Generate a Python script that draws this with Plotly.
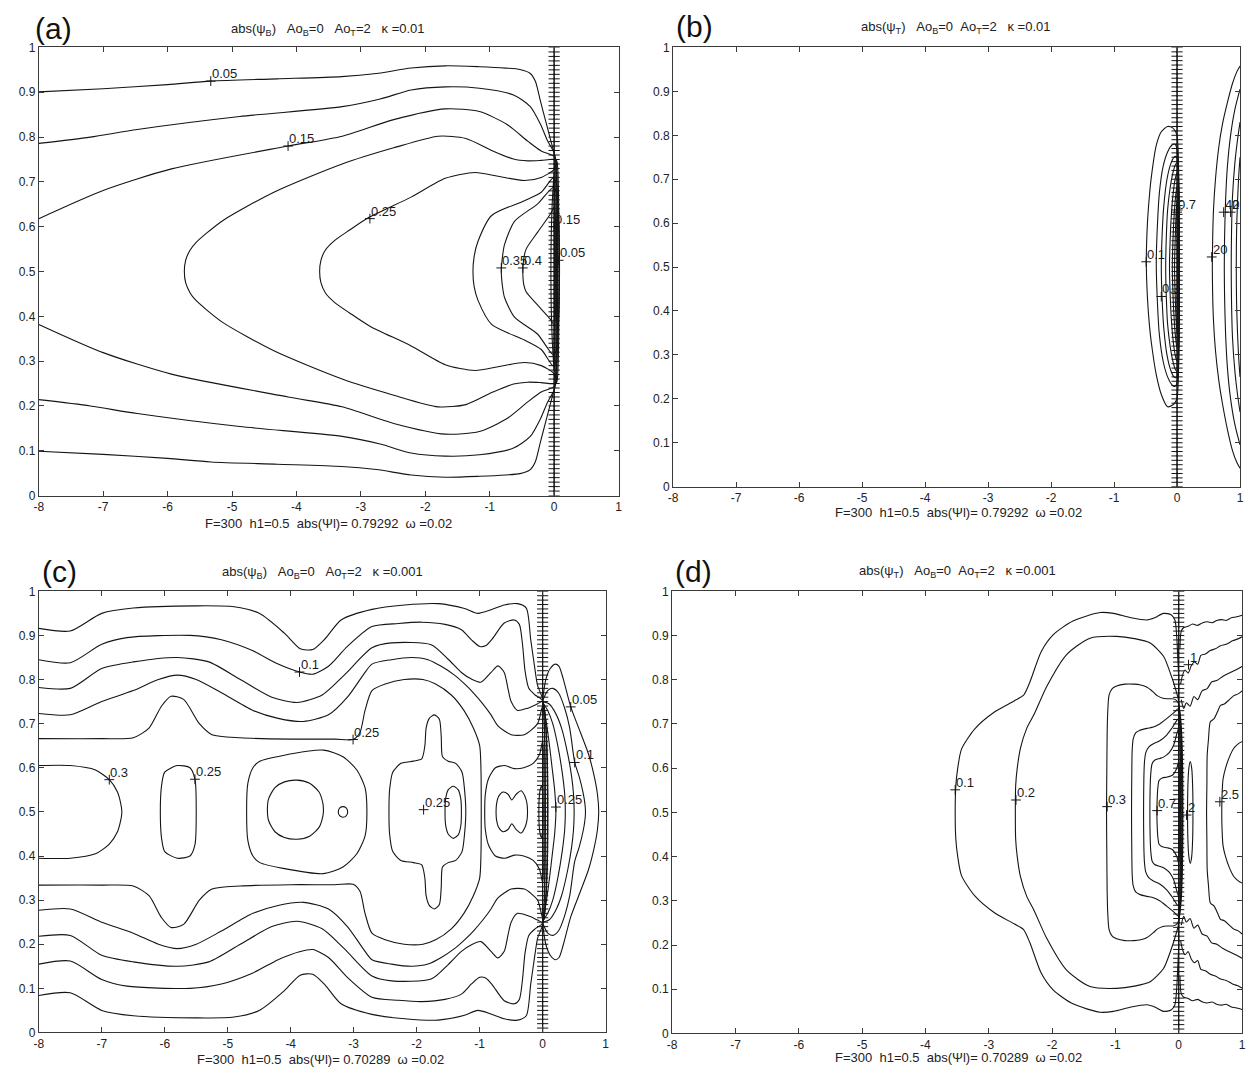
import plotly.graph_objects as go

W, H = 1249, 1076
LINE = '#151515'
FRAME = '#3a3a3a'
FONT = 'Liberation Sans, Arial, Helvetica, sans-serif'

# ---------------- axis ticks ----------------
X_TICKS = [-8, -7, -6, -5, -4, -3, -2, -1, 0, 1]
X_TICK_TEXT = ['-8', '-7', '-6', '-5', '-4', '-3', '-2', '-1', '0', '1']
Y_TICKS = [0, 0.1, 0.2, 0.3, 0.4, 0.5, 0.6, 0.7, 0.8, 0.9, 1]
Y_TICK_TEXT = ['0', '0.1', '0.2', '0.3', '0.4', '0.5', '0.6', '0.7', '0.8', '0.9', '1']

# interface grid nodes (the '+' column at x = 0)
INTERFACE_Y = [0.00, 0.01, 0.02, 0.03, 0.04, 0.05, 0.06, 0.07, 0.08, 0.09,
               0.10, 0.11, 0.12, 0.13, 0.14, 0.15, 0.16, 0.17, 0.18, 0.19,
               0.20, 0.21, 0.22, 0.23, 0.24, 0.25, 0.26, 0.27, 0.28, 0.29,
               0.30, 0.31, 0.32, 0.33, 0.34, 0.35, 0.36, 0.37, 0.38, 0.39,
               0.40, 0.41, 0.42, 0.43, 0.44, 0.45, 0.46, 0.47, 0.48, 0.49,
               0.50, 0.51, 0.52, 0.53, 0.54, 0.55, 0.56, 0.57, 0.58, 0.59,
               0.60, 0.61, 0.62, 0.63, 0.64, 0.65, 0.66, 0.67, 0.68, 0.69,
               0.70, 0.71, 0.72, 0.73, 0.74, 0.75, 0.76, 0.77, 0.78, 0.79,
               0.80, 0.81, 0.82, 0.83, 0.84, 0.85, 0.86, 0.87, 0.88, 0.89,
               0.90, 0.91, 0.92, 0.93, 0.94, 0.95, 0.96, 0.97, 0.98, 0.99, 1.00]

# ================= panel (a): abs(psi_B), kappa = 0.01 =================
A_L1_X = [-8, -7, -6, -5.33, -4.3, -3.3, -2.76, -2.22, -1.69, -1.16, -0.75, -0.53, -0.37, -0.29, -0.21, -0.13, -0.05, 0.0, 0.02, 0.045]
A_L1_YT = [0.901, 0.908, 0.917, 0.925, 0.930, 0.935, 0.942, 0.954, 0.959, 0.957, 0.954, 0.951, 0.942, 0.924, 0.879, 0.835, 0.791, 0.765, 0.752, 0.745]
A_L1_YB = [0.099, 0.092, 0.083, 0.075, 0.070, 0.065, 0.058, 0.046, 0.041, 0.043, 0.046, 0.049, 0.058, 0.076, 0.121, 0.165, 0.209, 0.235, 0.248, 0.255]

A_L2_X = [-8, -7.2, -6.47, -4.88, -3.29, -2.7, -2.22, -1.69, -1.16, -0.63, -0.37, -0.21, -0.10, 0.0, 0.02, 0.035]
A_L2_YT = [0.786, 0.80, 0.817, 0.846, 0.868, 0.885, 0.905, 0.912, 0.909, 0.894, 0.868, 0.828, 0.791, 0.765, 0.752, 0.745]
A_L2_YB = [0.214, 0.20, 0.183, 0.154, 0.132, 0.115, 0.095, 0.088, 0.091, 0.106, 0.132, 0.172, 0.209, 0.235, 0.248, 0.255]

A_L3_X = [-8, -7.0, -5.94, -4.13, -3.29, -2.49, -1.69, -1.16, -0.73, -0.41, -0.20, 0.0, 0.025]
A_L3_YT = [0.618, 0.681, 0.729, 0.780, 0.802, 0.839, 0.863, 0.857, 0.828, 0.791, 0.769, 0.757, 0.745]
A_L3_YB = [0.382, 0.319, 0.271, 0.220, 0.198, 0.161, 0.137, 0.143, 0.172, 0.209, 0.231, 0.243, 0.255]

A_L4_X = [-5.74, -5.72, -5.65, -5.57, -5.40, -5.14, -4.35, -3.29, -2.49, -1.80, -1.37, -0.95, -0.63, -0.41, -0.20, 0.0, 0.015]
A_L4_YT = [0.500, 0.525, 0.548, 0.563, 0.585, 0.614, 0.677, 0.740, 0.776, 0.802, 0.797, 0.769, 0.751, 0.747, 0.748, 0.750, 0.745]
A_L4_YB = [0.500, 0.475, 0.452, 0.437, 0.415, 0.386, 0.323, 0.260, 0.224, 0.198, 0.203, 0.231, 0.249, 0.253, 0.252, 0.250, 0.255]

A_L5_X = [-3.64, -3.62, -3.55, -3.40, -3.18, -2.86, -2.22, -1.69, -1.23, -0.85, -0.46, -0.20, 0.0, 0.01]
A_L5_YT = [0.500, 0.525, 0.548, 0.570, 0.592, 0.622, 0.666, 0.708, 0.721, 0.712, 0.703, 0.710, 0.728, 0.740]
A_L5_YB = [0.500, 0.475, 0.452, 0.430, 0.408, 0.378, 0.334, 0.292, 0.279, 0.288, 0.297, 0.290, 0.272, 0.260]

A_L6_X = [-1.26, -1.24, -1.18, -0.97, -0.46, -0.20, 0.0]
A_L6_YT = [0.500, 0.535, 0.568, 0.625, 0.658, 0.677, 0.710]
A_L6_YB = [0.500, 0.465, 0.435, 0.382, 0.347, 0.326, 0.288]

A_L7_X = [-0.82, -0.80, -0.77, -0.615, -0.255, 0.0]
A_L7_YT = [0.500, 0.535, 0.560, 0.612, 0.651, 0.688]
A_L7_YB = [0.500, 0.465, 0.442, 0.398, 0.360, 0.313]

A_L8_X = [-0.486, -0.47, -0.435, -0.255, -0.05, 0.0]
A_L8_YT = [0.500, 0.530, 0.550, 0.588, 0.630, 0.644]
A_L8_YB = [0.500, 0.470, 0.455, 0.425, 0.392, 0.380]

A_L9_X = [-0.05, -0.045, -0.03, -0.01, 0.0]
A_L9_YT = [0.50, 0.58, 0.65, 0.70, 0.72]
A_L9_YB = [0.50, 0.42, 0.35, 0.30, 0.28]

A_LABEL_X = [-5.33, -4.13, -2.86, -0.82, -0.486, 0.0, 0.07]
A_LABEL_Y = [0.925, 0.780, 0.618, 0.508, 0.508, 0.600, 0.525]
A_LABEL_TEXT = ['0.05', '0.15', '0.25', '0.35', '0.4', '0.15', '0.05']

# ================= panel (b): abs(psi_T), kappa = 0.01 =================
B_E1_X = [-0.488, -0.47, -0.44, -0.41, -0.33, -0.25, -0.15, -0.07, -0.03, 0.0]
B_E1_YT = [0.512, 0.600, 0.660, 0.703, 0.777, 0.808, 0.820, 0.817, 0.810, 0.800]
B_E1_YB = [0.512, 0.430, 0.370, 0.330, 0.255, 0.210, 0.182, 0.186, 0.192, 0.201]

B_E2_X = [-0.33, -0.31, -0.28, -0.22, -0.15, -0.08, -0.035, 0.0]
B_E2_YT = [0.508, 0.600, 0.670, 0.730, 0.762, 0.778, 0.780, 0.768]
B_E2_YB = [0.508, 0.415, 0.345, 0.285, 0.250, 0.232, 0.228, 0.236]

B_E3_X = [-0.25, -0.235, -0.21, -0.16, -0.10, -0.05, -0.02, 0.0]
B_E3_YT = [0.500, 0.580, 0.640, 0.700, 0.735, 0.750, 0.752, 0.748]
B_E3_YB = [0.500, 0.420, 0.360, 0.300, 0.265, 0.250, 0.248, 0.252]

B_E4_X = [-0.18, -0.17, -0.15, -0.11, -0.07, -0.03, 0.0]
B_E4_YT = [0.500, 0.570, 0.630, 0.680, 0.712, 0.732, 0.738]
B_E4_YB = [0.500, 0.430, 0.370, 0.320, 0.288, 0.268, 0.262]

B_E5_X = [-0.12, -0.11, -0.09, -0.06, -0.03, 0.0]
B_E5_YT = [0.500, 0.560, 0.620, 0.670, 0.700, 0.715]
B_E5_YB = [0.500, 0.440, 0.380, 0.330, 0.300, 0.285]

B_E6_X = [-0.075, -0.065, -0.045, -0.02, 0.0]
B_E6_YT = [0.500, 0.560, 0.620, 0.665, 0.685]
B_E6_YB = [0.500, 0.440, 0.380, 0.335, 0.315]

B_E7_X = [-0.04, -0.03, -0.015, 0.0]
B_E7_YT = [0.500, 0.560, 0.620, 0.650]
B_E7_YB = [0.500, 0.440, 0.380, 0.350]

B_R1_X = [0.56, 0.565, 0.578, 0.61, 0.66, 0.72, 0.80, 0.88, 0.95, 1.0]
B_R1_YT = [0.500, 0.560, 0.628, 0.700, 0.770, 0.825, 0.875, 0.918, 0.945, 0.958]
B_R1_YB = [0.500, 0.440, 0.380, 0.310, 0.245, 0.190, 0.130, 0.082, 0.055, 0.042]

B_R2_X = [0.75, 0.755, 0.77, 0.80, 0.85, 0.92, 1.0]
B_R2_YT = [0.500, 0.570, 0.650, 0.730, 0.800, 0.860, 0.905]
B_R2_YB = [0.500, 0.430, 0.350, 0.270, 0.200, 0.140, 0.095]

B_R3_X = [0.86, 0.865, 0.88, 0.92, 0.96, 1.0]
B_R3_YT = [0.500, 0.580, 0.660, 0.740, 0.790, 0.830]
B_R3_YB = [0.500, 0.420, 0.340, 0.260, 0.210, 0.170]

B_R4_X = [0.94, 0.945, 0.96, 0.98, 1.0]
B_R4_YT = [0.500, 0.580, 0.650, 0.710, 0.750]
B_R4_YB = [0.500, 0.420, 0.350, 0.290, 0.250]

B_LABEL_X = [-0.49, -0.25, 0.0, 0.55, 0.74, 0.85]
B_LABEL_Y = [0.512, 0.433, 0.625, 0.523, 0.625, 0.625]
B_LABEL_TEXT = ['0.1', '0.3', '0.7', '20', '40', '2']

# ================= panel (c): abs(psi_B), kappa = 0.001 =================
C_L1_X = [-8, -7.5, -7.0, -6.5, -5.5, -4.9, -4.5, -4.1, -3.85, -3.65, -3.45, -3.2, -2.71, -2.19, -1.66, -1.24, -1.03, -0.82, -0.61, -0.40, -0.26, -0.19, -0.13, -0.08, 0.0]
C_L1_YT = [0.916, 0.910, 0.950, 0.962, 0.967, 0.965, 0.950, 0.905, 0.870, 0.868, 0.893, 0.935, 0.959, 0.969, 0.972, 0.961, 0.950, 0.958, 0.969, 0.972, 0.962, 0.891, 0.831, 0.786, 0.755]
C_L1_YB = [0.084, 0.090, 0.050, 0.038, 0.033, 0.035, 0.050, 0.095, 0.130, 0.132, 0.107, 0.065, 0.041, 0.031, 0.028, 0.039, 0.050, 0.042, 0.031, 0.028, 0.038, 0.109, 0.169, 0.214, 0.245]

C_L2_X = [-8, -7.5, -7.0, -6.6, -5.6, -5.1, -4.6, -4.2, -3.86, -3.65, -3.4, -3.1, -2.71, -2.29, -1.92, -1.55, -1.29, -1.13, -1.0, -0.9, -0.8, -0.61, -0.45, -0.37, -0.32, -0.28, -0.22, -0.12, 0.0]
C_L2_YT = [0.845, 0.838, 0.880, 0.895, 0.900, 0.890, 0.865, 0.835, 0.817, 0.812, 0.830, 0.875, 0.920, 0.927, 0.930, 0.925, 0.913, 0.890, 0.875, 0.877, 0.892, 0.928, 0.935, 0.925, 0.880, 0.820, 0.780, 0.765, 0.752]
C_L2_YB = [0.155, 0.162, 0.120, 0.105, 0.100, 0.110, 0.135, 0.165, 0.183, 0.188, 0.170, 0.125, 0.080, 0.073, 0.070, 0.075, 0.087, 0.110, 0.125, 0.123, 0.108, 0.072, 0.065, 0.075, 0.120, 0.180, 0.220, 0.235, 0.248]

C_L3_X = [-8, -7.5, -7.0, -6.5, -5.8, -5.3, -4.8, -4.3, -3.9, -3.5, -3.15, -2.71, -2.40, -1.77, -1.50, -1.29, -1.13, -0.98, -0.82, -0.71, -0.61, -0.55, -0.50, -0.40, -0.24, -0.08, 0.0]
C_L3_YT = [0.782, 0.780, 0.825, 0.840, 0.850, 0.840, 0.800, 0.760, 0.748, 0.765, 0.810, 0.872, 0.883, 0.879, 0.846, 0.816, 0.801, 0.794, 0.816, 0.831, 0.816, 0.779, 0.750, 0.730, 0.735, 0.745, 0.750]
C_L3_YB = [0.218, 0.220, 0.175, 0.160, 0.150, 0.160, 0.200, 0.240, 0.252, 0.235, 0.190, 0.128, 0.117, 0.121, 0.154, 0.184, 0.199, 0.206, 0.184, 0.169, 0.184, 0.221, 0.250, 0.270, 0.265, 0.255, 0.250]

C_L4_X = [-8, -7.5, -7.0, -6.5, -6.1, -5.8, -5.5, -5.1, -4.6, -4.2, -3.8, -3.4, -3.1, -2.85, -2.71, -2.40, -2.08, -1.82, -1.61, -1.40, -1.24, -1.10, -0.95, -0.82, -0.71, -0.50, -0.29, -0.08, 0.0]
C_L4_YT = [0.723, 0.720, 0.750, 0.775, 0.800, 0.810, 0.800, 0.770, 0.730, 0.712, 0.705, 0.720, 0.760, 0.810, 0.835, 0.845, 0.850, 0.845, 0.830, 0.810, 0.790, 0.770, 0.745, 0.720, 0.695, 0.675, 0.675, 0.700, 0.740]
C_L4_YB = [0.277, 0.280, 0.250, 0.225, 0.200, 0.190, 0.200, 0.230, 0.270, 0.288, 0.295, 0.280, 0.240, 0.190, 0.165, 0.155, 0.150, 0.155, 0.170, 0.190, 0.210, 0.230, 0.255, 0.280, 0.305, 0.325, 0.325, 0.300, 0.260]

C_L5_X = [-8, -7.0, -6.5, -6.25, -6.05, -5.9, -5.7, -5.45, -5.25, -4.8, -4.0, -3.3, -3.01, -2.9, -2.82, -2.71, -2.5, -2.2, -1.9, -1.7, -1.45, -1.25, -1.10, -1.0, -0.98, -0.975]
C_L5_YT = [0.666, 0.666, 0.668, 0.690, 0.740, 0.762, 0.755, 0.700, 0.675, 0.668, 0.665, 0.665, 0.664, 0.680, 0.730, 0.775, 0.790, 0.800, 0.800, 0.790, 0.765, 0.730, 0.690, 0.650, 0.600, 0.500]
C_L5_YB = [0.334, 0.334, 0.332, 0.310, 0.260, 0.238, 0.245, 0.300, 0.325, 0.332, 0.335, 0.335, 0.336, 0.320, 0.270, 0.225, 0.210, 0.200, 0.200, 0.210, 0.235, 0.270, 0.310, 0.350, 0.400, 0.500]

C_S03_X = [-8, -7.5, -7.1, -6.88, -6.75, -6.70, -6.68]
C_S03_YT = [0.605, 0.605, 0.595, 0.573, 0.545, 0.520, 0.500]
C_S03_YB = [0.395, 0.395, 0.405, 0.427, 0.455, 0.480, 0.500]

C_OV1_X = [-6.07, -6.05, -6.0, -5.8, -5.6, -5.52, -5.50]
C_OV1_YT = [0.500, 0.560, 0.590, 0.605, 0.600, 0.574, 0.500]
C_OV1_YB = [0.500, 0.440, 0.410, 0.395, 0.400, 0.426, 0.500]

C_RR_X = [-4.70, -4.68, -4.60, -4.49, -4.12, -3.48, -3.17, -2.95, -2.82, -2.79]
C_RR_YT = [0.500, 0.565, 0.600, 0.615, 0.628, 0.640, 0.625, 0.595, 0.555, 0.500]
C_RR_YB = [0.500, 0.435, 0.400, 0.385, 0.372, 0.360, 0.375, 0.405, 0.445, 0.500]

C_CI_X = [-4.37, -4.35, -4.25, -4.10, -3.90, -3.70, -3.55, -3.49, -3.48]
C_CI_YT = [0.505, 0.530, 0.555, 0.568, 0.572, 0.565, 0.545, 0.520, 0.505]
C_CI_YB = [0.505, 0.480, 0.455, 0.442, 0.438, 0.445, 0.465, 0.490, 0.505]

C_TC_X = [-3.245, -3.22, -3.17, -3.12, -3.095]
C_TC_YT = [0.500, 0.509, 0.512, 0.509, 0.500]
C_TC_YB = [0.500, 0.491, 0.488, 0.491, 0.500]

C_CR_X = [-2.44, -2.43, -2.38, -2.25, -2.05, -1.92, -1.87, -1.85, -1.80, -1.72, -1.64, -1.61, -1.59, -1.50, -1.38, -1.28, -1.24, -1.22]
C_CR_YT = [0.500, 0.550, 0.590, 0.610, 0.615, 0.620, 0.650, 0.690, 0.712, 0.720, 0.710, 0.670, 0.625, 0.615, 0.610, 0.590, 0.550, 0.500]
C_CR_YB = [0.500, 0.450, 0.410, 0.390, 0.385, 0.380, 0.350, 0.310, 0.288, 0.280, 0.290, 0.330, 0.375, 0.385, 0.390, 0.410, 0.450, 0.500]

C_IO_X = [-1.55, -1.54, -1.50, -1.42, -1.34, -1.30, -1.29]
C_IO_YT = [0.500, 0.530, 0.550, 0.558, 0.550, 0.530, 0.500]
C_IO_YB = [0.500, 0.470, 0.450, 0.440, 0.448, 0.468, 0.500]

C_RG_X = [-0.92, -0.91, -0.86, -0.75, -0.60, -0.45, -0.30, -0.15, -0.05, 0.0]
C_RG_YT = [0.500, 0.540, 0.575, 0.600, 0.605, 0.598, 0.600, 0.610, 0.630, 0.660]
C_RG_YB = [0.500, 0.460, 0.425, 0.400, 0.395, 0.402, 0.400, 0.390, 0.370, 0.340]

C_PN_X = [-0.74, -0.73, -0.70, -0.63, -0.55, -0.49, -0.42, -0.34, -0.28, -0.25, -0.24]
C_PN_YT = [0.500, 0.520, 0.535, 0.545, 0.540, 0.527, 0.540, 0.548, 0.535, 0.520, 0.500]
C_PN_YB = [0.500, 0.480, 0.465, 0.455, 0.460, 0.473, 0.460, 0.452, 0.465, 0.480, 0.500]

C_SO_X = [-0.06, -0.055, -0.04, -0.02, -0.005, 0.0]
C_SO_YT = [0.500, 0.530, 0.550, 0.558, 0.550, 0.540]
C_SO_YB = [0.500, 0.470, 0.450, 0.442, 0.450, 0.460]

C_A1_X = [0.0, 0.05, 0.12, 0.2, 0.26, 0.33, 0.446, 0.6, 0.73, 0.82, 0.87, 0.89]
C_A1_YT = [0.755, 0.800, 0.825, 0.835, 0.830, 0.800, 0.738, 0.680, 0.630, 0.580, 0.540, 0.500]
C_A1_YB = [0.245, 0.200, 0.175, 0.165, 0.170, 0.200, 0.262, 0.320, 0.370, 0.420, 0.460, 0.500]

C_A2_X = [0.0, 0.08, 0.16, 0.25, 0.35, 0.43, 0.509, 0.58, 0.64, 0.67, 0.68]
C_A2_YT = [0.752, 0.775, 0.780, 0.770, 0.735, 0.690, 0.612, 0.580, 0.545, 0.520, 0.500]
C_A2_YB = [0.248, 0.225, 0.220, 0.230, 0.265, 0.310, 0.388, 0.420, 0.455, 0.480, 0.500]

C_A3_X = [0.0, 0.1, 0.2, 0.3, 0.4, 0.46, 0.49, 0.50]
C_A3_YT = [0.750, 0.745, 0.725, 0.690, 0.630, 0.580, 0.540, 0.500]
C_A3_YB = [0.250, 0.255, 0.275, 0.310, 0.370, 0.420, 0.460, 0.500]

C_A4_X = [0.0, 0.08, 0.16, 0.24, 0.31, 0.35, 0.36]
C_A4_YT = [0.748, 0.730, 0.700, 0.650, 0.590, 0.540, 0.500]
C_A4_YB = [0.252, 0.270, 0.300, 0.350, 0.410, 0.460, 0.500]

C_A5_X = [0.0, 0.05, 0.10, 0.15, 0.19, 0.21]
C_A5_YT = [0.745, 0.710, 0.660, 0.600, 0.550, 0.500]
C_A5_YB = [0.255, 0.290, 0.340, 0.400, 0.450, 0.500]

C_LABEL_X = [-6.88, -5.52, -3.86, -3.01, -1.89, 0.446, 0.509, 0.21]
C_LABEL_Y = [0.573, 0.574, 0.817, 0.664, 0.505, 0.738, 0.612, 0.511]
C_LABEL_TEXT = ['0.3', '0.25', '0.1', '0.25', '0.25', '0.05', '0.1', '0.25']

# ================= panel (d): abs(psi_T), kappa = 0.001 =================
D_C1_X = [-3.53, -3.52, -3.49, -3.43, -3.22, -2.91, -2.60, -2.45, -2.35, -2.17, -1.98, -1.67, -1.24, -1.03, -0.75, -0.50, -0.38, -0.24, -0.12, -0.06, -0.03, -0.015, 0.0]
D_C1_YT = [0.500, 0.560, 0.600, 0.643, 0.689, 0.727, 0.752, 0.765, 0.795, 0.864, 0.902, 0.933, 0.952, 0.950, 0.940, 0.935, 0.940, 0.950, 0.947, 0.935, 0.895, 0.850, 0.800]
D_C1_YB = [0.500, 0.440, 0.400, 0.357, 0.311, 0.273, 0.248, 0.235, 0.205, 0.136, 0.098, 0.067, 0.048, 0.050, 0.060, 0.065, 0.060, 0.050, 0.053, 0.065, 0.105, 0.150, 0.200]

D_C2_X = [-2.58, -2.575, -2.55, -2.50, -2.40, -2.29, -2.08, -1.77, -1.40, -0.98, -0.70, -0.45, -0.24, -0.12, -0.05, 0.0]
D_C2_YT = [0.500, 0.560, 0.600, 0.645, 0.690, 0.720, 0.786, 0.857, 0.894, 0.898, 0.893, 0.883, 0.853, 0.810, 0.779, 0.750]
D_C2_YB = [0.500, 0.440, 0.400, 0.355, 0.310, 0.280, 0.214, 0.143, 0.106, 0.102, 0.107, 0.117, 0.147, 0.190, 0.221, 0.250]

D_C3_X = [-1.14, -1.135, -1.13, -1.12, -1.10, -1.05, -0.98, -0.85, -0.71, -0.60, -0.50, -0.40, -0.34, -0.25, -0.19, -0.10, -0.05, 0.0]
D_C3_YT = [0.500, 0.600, 0.680, 0.730, 0.765, 0.780, 0.786, 0.790, 0.790, 0.788, 0.783, 0.772, 0.764, 0.758, 0.757, 0.757, 0.755, 0.745]
D_C3_YB = [0.500, 0.400, 0.320, 0.270, 0.235, 0.220, 0.214, 0.210, 0.210, 0.212, 0.217, 0.228, 0.236, 0.242, 0.243, 0.243, 0.245, 0.255]

D_C4_X = [-0.745, -0.74, -0.735, -0.72, -0.68, -0.61, -0.50, -0.40, -0.30, -0.19, -0.08, 0.0]
D_C4_YT = [0.500, 0.600, 0.640, 0.665, 0.680, 0.686, 0.690, 0.693, 0.700, 0.712, 0.725, 0.735]
D_C4_YB = [0.500, 0.400, 0.360, 0.335, 0.320, 0.314, 0.310, 0.307, 0.300, 0.288, 0.275, 0.265]

D_C5_X = [-0.555, -0.55, -0.54, -0.52, -0.47, -0.40, -0.30, -0.19, -0.10, 0.0]
D_C5_YT = [0.500, 0.580, 0.615, 0.635, 0.648, 0.655, 0.662, 0.675, 0.692, 0.712]
D_C5_YB = [0.500, 0.420, 0.385, 0.365, 0.352, 0.345, 0.338, 0.325, 0.308, 0.288]

D_C6_X = [-0.455, -0.45, -0.44, -0.42, -0.38, -0.30, -0.24, -0.15, -0.08, 0.0]
D_C6_YT = [0.500, 0.560, 0.590, 0.610, 0.618, 0.622, 0.625, 0.635, 0.652, 0.690]
D_C6_YB = [0.500, 0.440, 0.410, 0.390, 0.382, 0.378, 0.375, 0.365, 0.348, 0.310]

D_C7_X = [-0.345, -0.34, -0.33, -0.31, -0.26, -0.18, -0.10, -0.03, 0.0]
D_C7_YT = [0.500, 0.530, 0.555, 0.572, 0.578, 0.580, 0.584, 0.600, 0.615]
D_C7_YB = [0.500, 0.470, 0.445, 0.428, 0.422, 0.420, 0.416, 0.400, 0.385]

D_EL_X = [0.14, 0.145, 0.16, 0.183, 0.205, 0.22, 0.225]
D_EL_YT = [0.500, 0.560, 0.600, 0.615, 0.600, 0.560, 0.500]
D_EL_YB = [0.500, 0.440, 0.400, 0.385, 0.400, 0.440, 0.500]

D_R1_X = [0.02, 0.04, 0.08, 0.15, 0.22, 0.30, 0.38, 0.45, 0.53, 0.60, 0.68, 0.75, 0.83, 0.90, 1.0]
D_R1_YT = [0.870, 0.910, 0.918, 0.921, 0.926, 0.923, 0.929, 0.931, 0.929, 0.934, 0.936, 0.934, 0.940, 0.942, 0.946]
D_R1_YB = [0.130, 0.090, 0.082, 0.079, 0.074, 0.077, 0.071, 0.069, 0.071, 0.066, 0.064, 0.066, 0.060, 0.058, 0.054]

D_R2_X = [0.03, 0.06, 0.10, 0.15, 0.20, 0.25, 0.30, 0.35, 0.42, 0.50, 0.58, 0.66, 0.75, 0.85, 0.95, 1.0]
D_R2_YT = [0.790, 0.810, 0.822, 0.815, 0.832, 0.840, 0.835, 0.855, 0.858, 0.866, 0.870, 0.877, 0.880, 0.888, 0.893, 0.897]
D_R2_YB = [0.210, 0.190, 0.178, 0.185, 0.168, 0.160, 0.165, 0.145, 0.142, 0.134, 0.130, 0.123, 0.120, 0.112, 0.107, 0.103]

D_R3_X = [0.04, 0.08, 0.12, 0.18, 0.24, 0.30, 0.37, 0.45, 0.52, 0.60, 0.70, 0.80, 0.90, 1.0]
D_R3_YT = [0.755, 0.735, 0.748, 0.740, 0.762, 0.755, 0.775, 0.780, 0.795, 0.798, 0.808, 0.815, 0.822, 0.830]
D_R3_YB = [0.245, 0.265, 0.252, 0.260, 0.238, 0.245, 0.225, 0.220, 0.205, 0.202, 0.192, 0.185, 0.178, 0.170]

D_R4_X = [0.44, 0.445, 0.45, 0.47, 0.50, 0.56, 0.62, 0.66, 0.72, 0.80, 0.87, 0.94, 1.0]
D_R4_YT = [0.500, 0.560, 0.630, 0.665, 0.705, 0.712, 0.730, 0.742, 0.745, 0.755, 0.764, 0.768, 0.775]
D_R4_YB = [0.500, 0.440, 0.370, 0.335, 0.295, 0.288, 0.270, 0.258, 0.255, 0.245, 0.236, 0.232, 0.225]

D_R5_X = [0.68, 0.685, 0.70, 0.74, 0.80, 0.87, 0.94, 1.0]
D_R5_YT = [0.500, 0.540, 0.575, 0.600, 0.625, 0.645, 0.655, 0.660]
D_R5_YB = [0.500, 0.460, 0.425, 0.400, 0.375, 0.355, 0.345, 0.340]

D_LABEL_X = [-3.53, -2.57, -1.13, -0.34, 0.155, 0.124, 0.65]
D_LABEL_Y = [0.551, 0.528, 0.513, 0.504, 0.834, 0.494, 0.524]
D_LABEL_TEXT = ['0.1', '0.2', '0.3', '0.7', '1', '2', '2.5']

# ---------------- texts ----------------
SP = '\u00a0'
TITLE_A = f'abs(ψ<sub>B</sub>){SP*3}Ao<sub>B</sub>=0{SP*3}Ao<sub>T</sub>=2{SP*3}κ =0.01'
TITLE_B = f'abs(ψ<sub>T</sub>){SP*3}Ao<sub>B</sub>=0{SP*2}Ao<sub>T</sub>=2{SP*3}κ =0.01'
TITLE_C = f'abs(ψ<sub>B</sub>){SP*3}Ao<sub>B</sub>=0{SP*3}Ao<sub>T</sub>=2{SP*3}κ =0.001'
TITLE_D = f'abs(ψ<sub>T</sub>){SP*3}Ao<sub>B</sub>=0{SP*2}Ao<sub>T</sub>=2{SP*3}κ =0.001'
FOOT_AB = f'F=300{SP*2}h1=0.5{SP*2}abs(Ψl)= 0.79292{SP*2}ω =0.02'
FOOT_CD = f'F=300{SP*2}h1=0.5{SP*2}abs(Ψl)= 0.70289{SP*2}ω =0.02'

# ---------------- layout boxes (pixels: left, top, right, bottom) ----------------
PANELS = {
    'a': dict(box=(34, 41, 618, 495), xa='x', ya='y', letter='(a)', lpos=(49, 22),
              title=TITLE_A, tpos=(325, 23), foot=FOOT_AB, fpos=(326, 523)),
    'b': dict(box=(673, 41, 1244, 486), xa='x2', ya='y2', letter='(b)', lpos=(695, 20),
              title=TITLE_B, tpos=(957, 21), foot=FOOT_AB, fpos=(960, 512)),
    'c': dict(box=(34, 592, 605, 1039), xa='x3', ya='y3', letter='(c)', lpos=(55, 572),
              title=TITLE_C, tpos=(320, 573), foot=FOOT_CD, fpos=(318, 1066)),
    'd': dict(box=(672, 592, 1246, 1040), xa='x4', ya='y4', letter='(d)', lpos=(693, 572),
              title=TITLE_D, tpos=(959, 572), foot=FOOT_CD, fpos=(960, 1064)),
}

CONTOURS = [
    ('a', A_L1_X, A_L1_YT, A_L1_YB, 'tb'), ('a', A_L2_X, A_L2_YT, A_L2_YB, 'tb'),
    ('a', A_L3_X, A_L3_YT, A_L3_YB, 'tb'), ('a', A_L4_X, A_L4_YT, A_L4_YB, 'tb'),
    ('a', A_L5_X, A_L5_YT, A_L5_YB, 'tb'), ('a', A_L6_X, A_L6_YT, A_L6_YB, 'tb'),
    ('a', A_L7_X, A_L7_YT, A_L7_YB, 'tb'), ('a', A_L8_X, A_L8_YT, A_L8_YB, 'tb'),
    ('a', A_L9_X, A_L9_YT, A_L9_YB, 'tb'),
    ('b', B_E1_X, B_E1_YT, B_E1_YB, 'tb'), ('b', B_E2_X, B_E2_YT, B_E2_YB, 'tb'),
    ('b', B_E3_X, B_E3_YT, B_E3_YB, 'tb'), ('b', B_E4_X, B_E4_YT, B_E4_YB, 'tb'),
    ('b', B_E5_X, B_E5_YT, B_E5_YB, 'tb'), ('b', B_E6_X, B_E6_YT, B_E6_YB, 'tb'),
    ('b', B_E7_X, B_E7_YT, B_E7_YB, 'tb'),
    ('b', B_R1_X, B_R1_YT, B_R1_YB, 'rt'), ('b', B_R2_X, B_R2_YT, B_R2_YB, 'rt'),
    ('b', B_R3_X, B_R3_YT, B_R3_YB, 'rt'), ('b', B_R4_X, B_R4_YT, B_R4_YB, 'rt'),
    ('c', C_L1_X, C_L1_YT, C_L1_YB, 'tb'), ('c', C_L2_X, C_L2_YT, C_L2_YB, 'tb'),
    ('c', C_L3_X, C_L3_YT, C_L3_YB, 'tb'), ('c', C_L4_X, C_L4_YT, C_L4_YB, 'tb'),
    ('c', C_L5_X, C_L5_YT, C_L5_YB, 'tb'), ('c', C_S03_X, C_S03_YT, C_S03_YB, 'tb'),
    ('c', C_OV1_X, C_OV1_YT, C_OV1_YB, 'tb'), ('c', C_RR_X, C_RR_YT, C_RR_YB, 'tb'),
    ('c', C_CI_X, C_CI_YT, C_CI_YB, 'tb'), ('c', C_TC_X, C_TC_YT, C_TC_YB, 'tb'),
    ('c', C_CR_X, C_CR_YT, C_CR_YB, 'tb'), ('c', C_IO_X, C_IO_YT, C_IO_YB, 'tb'),
    ('c', C_RG_X, C_RG_YT, C_RG_YB, 'tb'), ('c', C_PN_X, C_PN_YT, C_PN_YB, 'tb'),
    ('c', C_SO_X, C_SO_YT, C_SO_YB, 'tb'),
    ('c', C_A1_X, C_A1_YT, C_A1_YB, 'tb'), ('c', C_A2_X, C_A2_YT, C_A2_YB, 'tb'),
    ('c', C_A3_X, C_A3_YT, C_A3_YB, 'tb'), ('c', C_A4_X, C_A4_YT, C_A4_YB, 'tb'),
    ('c', C_A5_X, C_A5_YT, C_A5_YB, 'tb'),
    ('d', D_C1_X, D_C1_YT, D_C1_YB, 'tb'), ('d', D_C2_X, D_C2_YT, D_C2_YB, 'tb'),
    ('d', D_C3_X, D_C3_YT, D_C3_YB, 'tb'), ('d', D_C4_X, D_C4_YT, D_C4_YB, 'tb'),
    ('d', D_C5_X, D_C5_YT, D_C5_YB, 'tb'), ('d', D_C6_X, D_C6_YT, D_C6_YB, 'tb'),
    ('d', D_C7_X, D_C7_YT, D_C7_YB, 'tb'), ('d', D_EL_X, D_EL_YT, D_EL_YB, 'tb'),
    ('d', D_R1_X, D_R1_YT, D_R1_YB, 'sep'), ('d', D_R2_X, D_R2_YT, D_R2_YB, 'sep'),
    ('d', D_R3_X, D_R3_YT, D_R3_YB, 'sep'), ('d', D_R4_X, D_R4_YT, D_R4_YB, 'rt'),
    ('d', D_R5_X, D_R5_YT, D_R5_YB, 'rt'),
]

LABELS = {
    'a': (A_LABEL_X, A_LABEL_Y, A_LABEL_TEXT),
    'b': (B_LABEL_X, B_LABEL_Y, B_LABEL_TEXT),
    'c': (C_LABEL_X, C_LABEL_Y, C_LABEL_TEXT),
    'd': (D_LABEL_X, D_LABEL_Y, D_LABEL_TEXT),
}


def build_path(x, yt, yb, mode):
    x, yt, yb = list(x), list(yt), list(yb)
    if mode == 'tb':
        xs, ys = x + x[::-1], yt + yb[::-1]
    elif mode == 'rt':
        xs, ys = x[::-1] + x, yt[::-1] + yb
    else:
        xs, ys = x + [None] + x, yt + [None] + yb
    ox, oy = [], []
    for a, b in zip(xs, ys):
        if ox and a is not None and ox[-1] == a and oy[-1] == b:
            continue
        ox.append(a)
        oy.append(b)
    return ox, oy


fig = go.Figure()

for key, xs, yts, ybs, mode in CONTOURS:
    p = PANELS[key]
    px_, py_ = build_path(xs, yts, ybs, mode)
    fig.add_trace(go.Scatter(
        x=px_, y=py_, mode='lines', xaxis=p['xa'], yaxis=p['ya'],
        line=dict(color=LINE, width=1.1, shape='spline', smoothing=0.7),
        hoverinfo='skip', showlegend=False))

annotations = []
for key, p in PANELS.items():
    # interface '+' column
    fig.add_trace(go.Scatter(
        x=[0.0] * len(INTERFACE_Y), y=INTERFACE_Y, mode='markers',
        xaxis=p['xa'], yaxis=p['ya'],
        marker=dict(symbol='cross-thin', size=8, color=LINE, line=dict(width=1, color=LINE)),
        hoverinfo='skip', showlegend=False))
    # contour label ticks and texts
    lx, ly, lt = LABELS[key]
    fig.add_trace(go.Scatter(
        x=lx, y=ly, mode='markers', xaxis=p['xa'], yaxis=p['ya'],
        marker=dict(symbol='cross-thin', size=7, color=LINE, line=dict(width=1, color=LINE)),
        hoverinfo='skip', showlegend=False))
    for xv, yv, tv in zip(lx, ly, lt):
        annotations.append(dict(
            x=xv, y=yv, xref=p['xa'], yref=p['ya'], text=tv, showarrow=False,
            xanchor='left', yanchor='bottom', xshift=-1, yshift=-2,
            font=dict(family=FONT, size=13, color='#1a1a1a')))
    # panel letter, title, footer
    annotations.append(dict(
        x=p['lpos'][0] / W, y=1 - p['lpos'][1] / H, xref='paper', yref='paper',
        text=p['letter'], showarrow=False, xanchor='center', yanchor='middle',
        font=dict(family=FONT, size=30, color='#111')))
    annotations.append(dict(
        x=p['tpos'][0] / W, y=1 - p['tpos'][1] / H, xref='paper', yref='paper',
        text=p['title'], showarrow=False, xanchor='center', yanchor='middle',
        font=dict(family=FONT, size=13, color='#222')))
    annotations.append(dict(
        x=p['fpos'][0] / W, y=1 - p['fpos'][1] / H, xref='paper', yref='paper',
        text=p['foot'], showarrow=False, xanchor='center', yanchor='middle',
        font=dict(family=FONT, size=13, color='#222')))

layout_axes = {}
for i, (key, p) in enumerate(PANELS.items()):
    l, t, r, b = p['box']
    suffix = '' if i == 0 else str(i + 1)
    common = dict(ticks='inside', ticklen=5, tickwidth=1, tickcolor=FRAME,
                  showline=True, linewidth=1, linecolor=FRAME, mirror='allticks',
                  showgrid=False, zeroline=False, fixedrange=True,
                  tickfont=dict(family=FONT, size=12, color='#222'))
    layout_axes['xaxis' + suffix] = dict(
        domain=[l / W, r / W], anchor=p['ya'], range=[-8, 1],
        tickmode='array', tickvals=X_TICKS, ticktext=X_TICK_TEXT, **common)
    layout_axes['yaxis' + suffix] = dict(
        domain=[1 - b / H, 1 - t / H], anchor=p['xa'], range=[0, 1],
        tickmode='array', tickvals=Y_TICKS, ticktext=Y_TICK_TEXT, **common)

fig.update_layout(
    width=W, height=H, margin=dict(l=0, r=0, t=0, b=0),
    paper_bgcolor='white', plot_bgcolor='white',
    annotations=annotations, showlegend=False,
    font=dict(family=FONT, size=12, color='#222'),
    **layout_axes)

fig.write_html('out.html')
